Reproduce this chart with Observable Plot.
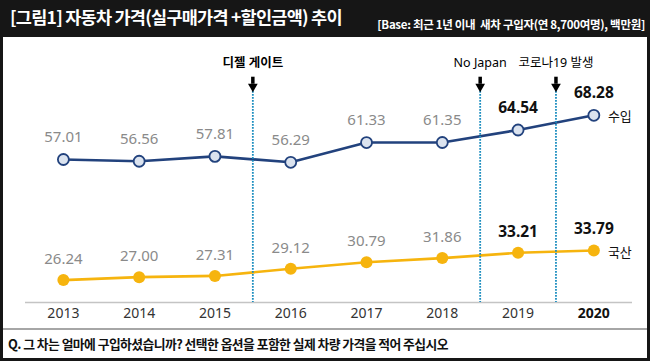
<!DOCTYPE html>
<html><head><meta charset="utf-8">
<script src="https://cdn.jsdelivr.net/npm/d3@7"></script>
<script src="https://cdn.jsdelivr.net/npm/@observablehq/plot@0.6"></script>
<style>
body{margin:0;background:#fff;}
#frame{position:relative;width:650px;height:361px;background:#161616;overflow:hidden;font-family:"Noto Sans CJK KR","Noto Sans",sans-serif;}
#title{position:absolute;left:10px;top:4px;color:#fff;font-weight:700;font-size:17.5px;letter-spacing:-0.75px;white-space:nowrap;}
#sub{position:absolute;right:5px;top:16px;color:#fff;font-weight:700;font-size:11.5px;letter-spacing:-0.3px;white-space:nowrap;}
#body{position:absolute;left:3px;top:37px;width:644px;height:321px;background:#fff;}
#chart{position:absolute;left:0;top:0;}
#rule{position:absolute;left:0;top:291px;width:644px;height:2px;background:#a6a6a6;}
#q{position:absolute;left:5px;top:297px;font-weight:700;font-size:12.8px;letter-spacing:-0.55px;color:#111;white-space:nowrap;}
</style></head><body>
<div id="frame">
  <div id="title">[그림1] 자동차 가격(실구매가격 +할인금액) 추이</div>
  <div id="sub">[Base: 최근 1년 이내&nbsp; 새차 구입자(연 8,700여명), 백만원]</div>
  <div id="body">
    <div id="chart"></div>
    <div id="rule"></div>
    <div id="q">Q. 그 차는 얼마에 구입하셨습니까? 선택한 옵션을 포함한 실제 차량 가격을 적어 주십시오</div>
  </div>
</div>
<script>
const years = [2013, 2014, 2015, 2016, 2017, 2018, 2019, 2020];
const importPrice = [57.01, 56.56, 57.81, 56.29, 61.33, 61.35, 64.54, 68.28];
const domesticPrice = [26.24, 27.00, 27.31, 29.12, 30.79, 31.86, 33.21, 33.79];
const seriesNames = ["수입", "국산"];
const highlightYears = [2019, 2020];
const boldTickYears = [2020];
const eventNames = ["디젤 게이트", "No Japan", "코로나19 발생"];
const eventPositions = [2015.5, 2018.5, 2019.5];
const boldEvents = ["디젤 게이트"];

const imp = years.map((y, i) => ({year: y, value: importPrice[i], hi: highlightYears.includes(y)}));
const dom = years.map((y, i) => ({year: y, value: domesticPrice[i], hi: highlightYears.includes(y)}));
const events = eventNames.map((n, i) => ({name: n, x: eventPositions[i], bold: boldEvents.includes(n)}));
const ends = [
  {name: seriesNames[0], year: years[years.length - 1], value: importPrice[importPrice.length - 1]},
  {name: seriesNames[1], year: years[years.length - 1], value: domesticPrice[domesticPrice.length - 1]}
];

const yMin = 20.53, yMax = 88.13;
const NAVY = "#22427d", GOLD = "#f6b40e";
const fmt = d => d.value.toFixed(2);

const chart = Plot.plot({
  width: 644, height: 292,
  marginLeft: 22, marginRight: 15, marginTop: 0, marginBottom: 27,
  x: {domain: [2012.5, 2020.51], axis: null},
  y: {domain: [yMin, yMax], axis: null},
  style: {fontFamily: "'Noto Sans','Noto Sans CJK KR',sans-serif", background: "transparent", overflow: "visible"},
  marks: [
    Plot.ruleY([yMin], {stroke: "#c4c4c4", strokeWidth: 1.5}),
    Plot.line(imp, {x: "year", y: "value", stroke: NAVY, strokeWidth: 2.6}),
    Plot.line(dom, {x: "year", y: "value", stroke: GOLD, strokeWidth: 2.6}),
    Plot.ruleX(events, {x: "x", y1: 75.1, y2: yMin, stroke: "#1b8dbf", strokeWidth: 1.8, strokeDasharray: "1.6,1.4"}),
    Plot.ruleX(events, {x: "x", y1: 78.0, y2: 76.2, stroke: "#000", strokeWidth: 3.5}),
    Plot.dot(events, {x: "x", y: 75.6, symbol: "triangle", rotate: 180, r: 3.6, fill: "#000"}),
    Plot.text(events.filter(d => !d.bold), {x: "x", y: 81.5, text: "name", fontSize: 12.5, fill: "#000"}),
    Plot.text(events.filter(d => d.bold), {x: "x", y: 81.5, text: "name", fontSize: 12.5, fontWeight: "bold", fill: "#000"}),
    Plot.dot(imp, {x: "year", y: "value", r: 5.5, fill: "#dbe3ef", stroke: NAVY, strokeWidth: 1.8}),
    Plot.dot(dom, {x: "year", y: "value", r: 6, fill: GOLD}),
    Plot.text(imp.filter(d => !d.hi), {x: "year", y: "value", text: fmt, dy: -22, fill: "#8a8a8a", fontSize: 15}),
    Plot.text(dom.filter(d => !d.hi), {x: "year", y: "value", text: fmt, dy: -21, fill: "#8a8a8a", fontSize: 15}),
    Plot.text(imp.filter(d => d.hi), {x: "year", y: "value", text: fmt, dy: -22, fill: "#111", fontSize: 15.5, fontWeight: "bold"}),
    Plot.text(dom.filter(d => d.hi), {x: "year", y: "value", text: fmt, dy: -21, fill: "#111", fontSize: 15.5, fontWeight: "bold"}),
    Plot.text(ends, {x: "year", y: "value", text: "name", dx: 26, dy: 2, fontSize: 13, fill: "#111"}),
    Plot.text(years.filter(y => !boldTickYears.includes(y)), {x: d => d, y: yMin, text: d => String(d), dy: 11, fontSize: 14, fill: "#333"}),
    Plot.text(boldTickYears, {x: d => d, y: yMin, text: d => String(d), dy: 11, fontSize: 14, fontWeight: "bold", fill: "#111"})
  ]
});
document.getElementById("chart").appendChild(chart);
</script>
</body></html>
